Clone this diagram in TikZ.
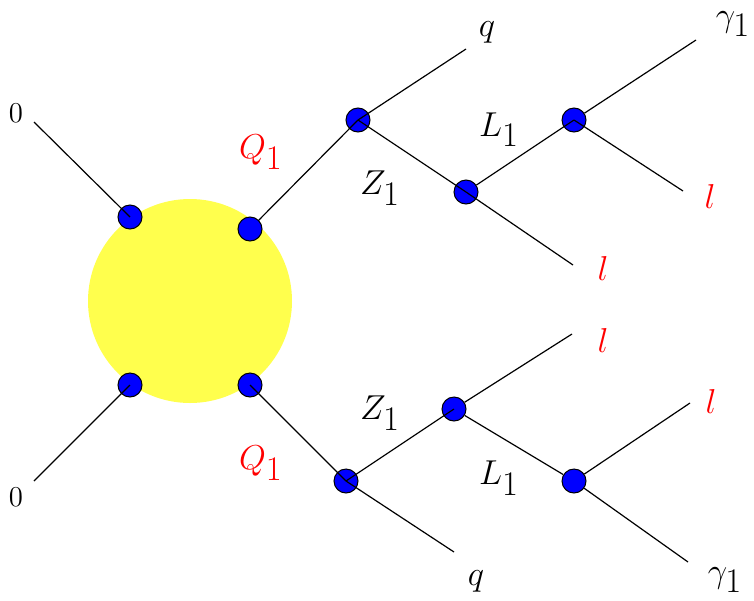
\documentclass[tikz,border=0pt]{standalone}
\begin{document}
\begin{tikzpicture}[x=0.5pt, y=-0.5pt,
    dot/.style={circle, draw=black, fill=blue, line width=0.5pt, minimum size=12pt, inner sep=0pt},
    blob/.style={circle, fill=blobColour, minimum size=102pt, inner sep=0pt},
    lbl/.style={font=\fontsize{16}{19}\selectfont},
    zerolbl/.style={font=\fontsize{15}{18}\selectfont},
    wire/.style={line width=0.6pt}]
    \definecolor{blobColour}{RGB}{255,255,77}

    % Fix the page
    \useasboundingbox (0,0) rectangle (754,600);

    % Draw blob
    \node[blob] (blob) at (190,301) {};

    % Vertices on the blob
    \node[dot] (A) at (130,217) {};
    \node[dot] (B) at (250,229) {};
    \node[dot] (C) at (130,385) {};
    \node[dot] (D) at (250,385) {};

    % Upper decay chain
    \node[dot] (Zu) at (358,120) {};
    \node[dot] (Lu) at (466,192) {};
    \node[dot] (Gu) at (574,120) {};

    % Lower decay chain
    \node[dot] (Zd) at (346,481) {};
    \node[dot] (Ld) at (454,409) {};
    \node[dot] (Gd) at (574,481) {};

    % Free ends
    \coordinate (inU) at (34,122);
    \coordinate (inD) at (34,481);
    \coordinate (qU) at (466,49);
    \coordinate (lU) at (573,265);
    \coordinate (gU) at (696,40);
    \coordinate (llU) at (683,191);
    \coordinate (qD) at (454,552);
    \coordinate (lD) at (572,334);
    \coordinate (llD) at (690,403);
    \coordinate (gD) at (688,562);

    % Draw lines
    \draw[wire] (inU) -- (A.center);
    \draw[wire] (inD) -- (C.center);
    \draw[wire] (B) -- (Zu.center);
    \draw[wire] (Zu.center) -- (qU);
    \draw[wire] (Zu.center) -- (Lu.center);
    \draw[wire] (Lu.center) -- (lU);
    \draw[wire] (Lu) -- (Gu.center);
    \draw[wire] (Gu) -- (gU);
    \draw[wire] (Gu.center) -- (llU);
    \draw[wire] (D.center) -- (Zd.center);
    \draw[wire] (Zd.center) -- (qD);
    \draw[wire] (Zd.center) -- (Ld.center);
    \draw[wire] (Ld) -- (lD);
    \draw[wire] (Ld) -- (Gd);
    \draw[wire] (Gd) -- (llD);
    \draw[wire] (Gd) -- (gD);

    % Labels
    \node[zerolbl] (n0u) at (16,113) {$0$};
    \node[zerolbl] (n0d) at (16,497) {$0$};
    \node[lbl, red] (Q1u) at (261,152) {$Q_{\textstyle 1}$};
    \node[lbl, red] (Q1d) at (261,463) {$Q_{\textstyle 1}$};
    \node[lbl] (Z1u) at (380,188) {$Z_{\textstyle 1}$};
    \node[lbl] (Z1d) at (380,413) {$Z_{\textstyle 1}$};
    \node[lbl] (L1u) at (499,130) {$L_{\textstyle 1}$};
    \node[lbl] (L1d) at (499,478) {$L_{\textstyle 1}$};
    \node[lbl] (qlu) at (487,32) {$q$};
    \node[lbl] (qld) at (476,581) {$q$};
    \node[lbl] (g1u) at (733,24) {$\gamma_{\textstyle 1}$};
    \node[lbl] (g1d) at (725,580) {$\gamma_{\textstyle 1}$};
    \node[lbl, red] (l1) at (603,268) {$l$};
    \node[lbl, red] (l2) at (710,196) {$l$};
    \node[lbl, red] (l3) at (603,340) {$l$};
    \node[lbl, red] (l4) at (711,401) {$l$};
\end{tikzpicture}
\end{document}
